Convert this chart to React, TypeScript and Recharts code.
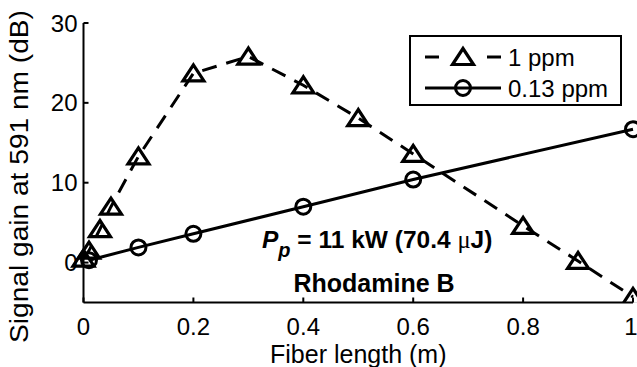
import { Customized, Legend, Line, LineChart, XAxis, YAxis } from "recharts";

const FONT = "'Liberation Sans', Arial, Helvetica, sans-serif";

// fiber length (m) and signal gain (dB) for each dye concentration
const length1ppm = [0, 0.01, 0.03, 0.05, 0.1, 0.2, 0.3, 0.4, 0.5, 0.6, 0.8, 0.9, 1.0];
const gain1ppm = [0.5, 1.5, 4.2, 7.0, 13.3, 23.7, 25.8, 22.2, 18.1, 13.6, 4.6, 0.2, -4.3];

const length013ppm = [0.01, 0.1, 0.2, 0.4, 0.6, 1.0];
const gain013ppm = [0.3, 1.9, 3.6, 7.0, 10.4, 16.7];

const seriesNames = ["1 ppm", "0.13 ppm"];

const xTicks = [0, 0.2, 0.4, 0.6, 0.8, 1];
const yTicks = [0, 10, 20, 30];

const data1ppm = length1ppm.map((x, i) => ({ x, gain: gain1ppm[i] }));
const data013ppm = length013ppm.map((x, i) => ({ x, gain: gain013ppm[i] }));

const tickStyle = { fill: "#000", fontSize: 24, fontFamily: FONT };

function Triangle({ cx, cy }: { cx: number; cy: number }) {
  return (
    <polygon
      points={`${cx},${cy - 8.5} ${cx - 10.5},${cy + 7.5} ${cx + 10.5},${cy + 7.5}`}
      fill="none"
      stroke="#000"
      strokeWidth={3.2}
      strokeLinejoin="miter"
    />
  );
}

function TriangleDot(props: any) {
  const { cx, cy, index } = props;
  if (cx == null || cy == null) return <g key={index} />;
  return (
    <g key={index}>
      <Triangle cx={cx} cy={cy} />
    </g>
  );
}

function CircleDot(props: any) {
  const { cx, cy, index } = props;
  if (cx == null || cy == null) return <g key={index} />;
  return <circle key={index} cx={cx} cy={cy} r={7.5} fill="none" stroke="#000" strokeWidth={3} />;
}

function LegendBox() {
  return (
    <div style={{ width: 209, height: 67, border: "2px solid #000", background: "#fff" }}>
      <svg width={209} height={67} style={{ display: "block" }}>
        {/* dashed line with triangle */}
        <line x1={14} y1={20} x2={28} y2={20} stroke="#000" strokeWidth={3} />
        <line x1={76} y1={20} x2={90} y2={20} stroke="#000" strokeWidth={3} />
        <Triangle cx={52} cy={20} />
        <text x={97} y={29} fontFamily={FONT} fontSize={24} fill="#000">
          {seriesNames[0]}
        </text>
        {/* solid line with circle */}
        <line x1={14} y1={51} x2={90} y2={51} stroke="#000" strokeWidth={3} />
        <circle cx={52} cy={51} r={7.5} fill="none" stroke="#000" strokeWidth={3} />
        <text x={97} y={60} fontFamily={FONT} fontSize={24} fill="#000">
          {seriesNames[1]}
        </text>
      </svg>
    </div>
  );
}

function Annotations() {
  return (
    <g fontFamily={FONT} fill="#000">
      <text
        x={28}
        y={176.5}
        fontSize={26}
        textAnchor="middle"
        textLength={333}
        lengthAdjust="spacingAndGlyphs"
        transform="rotate(-90, 28, 176.5)"
      >
        Signal gain at 591 nm (dB)
      </text>
      <text x={262} y={248} fontSize={24.5} fontWeight="bold">
        <tspan fontStyle="italic">P</tspan>
        <tspan fontStyle="italic" fontSize={20} dy={9}>
          p
        </tspan>
        <tspan dy={-9}> = 11 kW (70.4 </tspan>
        <tspan fontWeight="normal" fontFamily="'Liberation Serif', serif">
          μ
        </tspan>
        <tspan>J)</tspan>
      </text>
      <text x={374} y={292} fontSize={25} fontWeight="bold" textAnchor="middle">
        Rhodamine B
      </text>
    </g>
  );
}

export default function App() {
  return (
    <div style={{ position: "absolute", left: 0, top: 0, background: "#fff" }}>
      <LineChart
        width={637}
        height={367}
        margin={{ top: 23, right: 4, bottom: 0, left: 0 }}
      >
        <XAxis
          xAxisId="bottom"
          dataKey="x"
          type="number"
          domain={[0, 1]}
          ticks={xTicks}
          height={64.5}
          tickSize={-5}
          tickMargin={20}
          tick={tickStyle}
          stroke="#000"
          strokeWidth={2}
          tickFormatter={(v: number) => String(v)}
          label={{
            value: "Fiber length (m)",
            position: "insideBottom",
            offset: 4,
            fill: "#000",
            fontSize: 25,
            fontFamily: FONT,
          }}
        />
        <XAxis
          xAxisId="top"
          orientation="top"
          type="number"
          domain={[0, 1]}
          ticks={xTicks}
          height={0}
          tickSize={-5}
          tick={false}
          stroke="#000"
          strokeWidth={2}
        />
        <YAxis
          yAxisId="left"
          type="number"
          domain={[-5, 30]}
          ticks={yTicks}
          width={83.5}
          tickSize={-5}
          tickMargin={11}
          tick={tickStyle}
          stroke="#000"
          strokeWidth={2}
          allowDataOverflow
        />
        <YAxis
          yAxisId="right"
          orientation="right"
          type="number"
          domain={[-5, 30]}
          ticks={yTicks}
          width={0}
          tickSize={-5}
          tick={false}
          stroke="#000"
          strokeWidth={2}
        />
        <Line
          xAxisId="bottom"
          yAxisId="left"
          data={data1ppm}
          dataKey="gain"
          name={seriesNames[0]}
          type="linear"
          stroke="#000"
          strokeWidth={3}
          strokeDasharray="15 10"
          dot={TriangleDot}
          activeDot={false}
          isAnimationActive={false}
        />
        <Line
          xAxisId="bottom"
          yAxisId="left"
          data={data013ppm}
          dataKey="gain"
          name={seriesNames[1]}
          type="linear"
          stroke="#000"
          strokeWidth={3}
          dot={CircleDot}
          activeDot={false}
          isAnimationActive={false}
        />
        <Legend
          layout="vertical"
          align="center"
          verticalAlign="middle"
          content={() => <LegendBox />}
          wrapperStyle={{ left: 409, top: 35, width: 213, height: 71 }}
        />
        <Customized component={Annotations} />
      </LineChart>
    </div>
  );
}
